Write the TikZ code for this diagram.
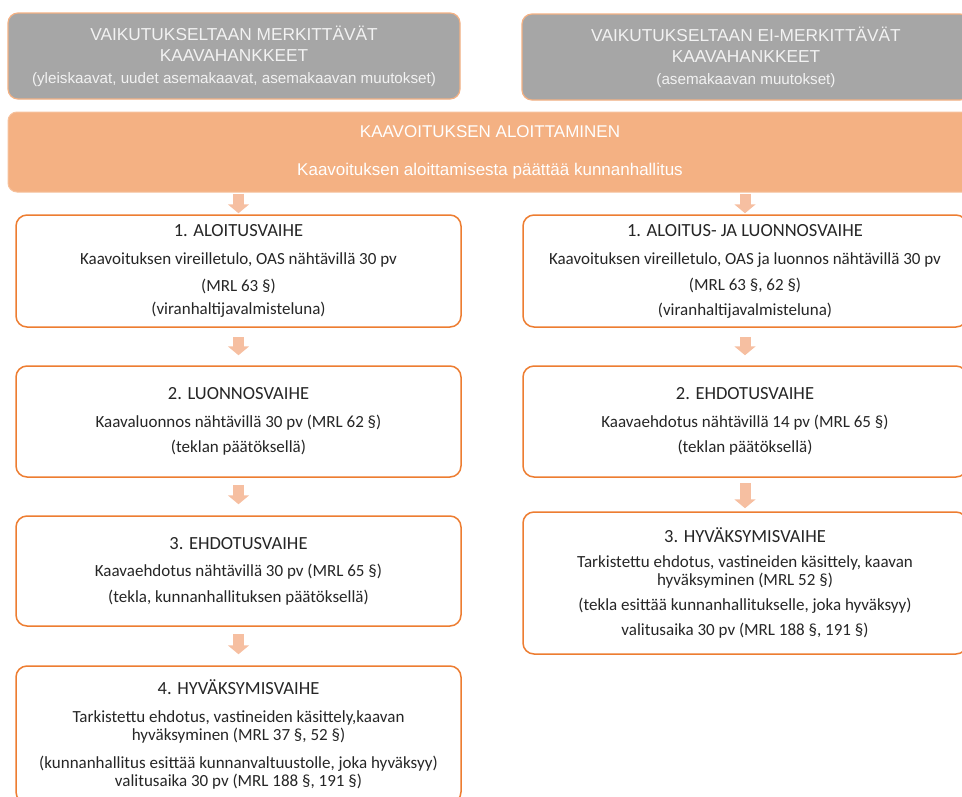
\documentclass[tikz,border=0pt]{standalone}
\usepackage{fontspec}
\setmainfont{Carlito}
\newfontfamily\arialfont{Liberation Sans}
\usetikzlibrary{arrows.meta}

\definecolor{greyfill}{HTML}{A6A6A6}
\definecolor{lightorange}{HTML}{F4B183}
\definecolor{boxorange}{HTML}{ED7D31}
\definecolor{arrowpink}{HTML}{F6BFA1}

\newcommand{\phasetitle}[1]{{\fontsize{18.5}{18}\selectfont #1}}

\begin{document}
\begin{tikzpicture}[
        x=1pt, y=-1pt,
        greybox/.style={rounded corners=10pt, fill=greyfill, draw=lightorange, line width=1.2pt,
            inner sep=0pt, align=center, text=white!95!black,
            font=\arialfont\fontsize{17.3}{21.5}\selectfont},
        banner/.style={rounded corners=9pt, fill=lightorange, draw=lightorange!80!white, line width=1pt,
            inner sep=0pt, align=center, text=white,
            font=\arialfont\fontsize{17}{24}\selectfont},
        phase/.style={rounded corners=11pt, fill=white, draw=boxorange, line width=1.5pt,
            inner sep=0pt, align=center, text=black!85,
            font=\fontsize{17}{18}\selectfont},
        flow/.style={draw=arrowpink, line width=11pt, -{Triangle[width=21pt,length=9pt]}}
    ]

    \useasboundingbox (0,0) rectangle (962,796);

    % Plan types
    \node[greybox, minimum width=452pt, minimum height=86pt] (major) at (234,56)
        {VAIKUTUKSELTAAN MERKITTÄVÄT\\KAAVAHANKKEET\\
         {\fontsize{15.2}{21.5}\selectfont(yleiskaavat, uudet asemakaavat, asemakaavan muutokset)}};
    \node[greybox, minimum width=448pt, minimum height=86pt] (minor) at (746,57)
        {VAIKUTUKSELTAAN EI-MERKITTÄVÄT\\KAAVAHANKKEET\\
         {\fontsize{15.2}{21.5}\selectfont(asemakaavan muutokset)}};

    % Start of planning
    \node[banner, minimum width=964pt, minimum height=80pt] (start) at (490,152)
        {KAAVOITUKSEN ALOITTAMINEN\\[14pt]Kaavoituksen aloittamisesta päättää kunnanhallitus};

    % Left column
    \node[phase, minimum width=445pt, minimum height=112pt] (L1) at (238.5,271)
        {\phasetitle{1. ALOITUSVAIHE}\\[10pt]Kaavoituksen vireilletulo, OAS nähtävillä 30 pv\\[9pt](MRL 63 §)\\[5pt](viranhaltijavalmisteluna)};
    \node[phase, minimum width=445pt, minimum height=111pt] (L2) at (238.5,421.5)
        {\phasetitle{2. LUONNOSVAIHE}\\[10pt]Kaavaluonnos nähtävillä 30 pv (MRL 62 §)\\[7pt](teklan päätöksellä)};
    \node[phase, minimum width=445pt, minimum height=110pt] (L3) at (238.5,571)
        {\phasetitle{3. EHDOTUSVAIHE}\\[9pt]Kaavaehdotus nähtävillä 30 pv (MRL 65 §)\\[8pt](tekla, kunnanhallituksen päätöksellä)};
    \node[phase, minimum width=445pt, minimum height=137pt] (L4) at (238.5,734.5)
        {\phasetitle{4. HYVÄKSYMISVAIHE}\\[10pt]Tarkistettu ehdotus, vastineiden käsittely,kaavan\\hyväksyminen (MRL 37 §, 52 §)\\[10pt](kunnanhallitus esittää kunnanvaltuustolle, joka hyväksyy)\\valitusaika 30 pv (MRL 188 §, 191 §)};

    % Right column
    \node[phase, minimum width=444pt, minimum height=112pt] (R1) at (745,271)
        {\phasetitle{1. ALOITUS- JA LUONNOSVAIHE}\\[10pt]Kaavoituksen vireilletulo, OAS ja luonnos nähtävillä 30 pv\\[8pt](MRL 63 §, 62 §)\\[7pt](viranhaltijavalmisteluna)};
    \node[phase, minimum width=444pt, minimum height=111pt] (R2) at (745,421.5)
        {\phasetitle{2. EHDOTUSVAIHE}\\[10pt]Kaavaehdotus nähtävillä 14 pv (MRL 65 §)\\[7pt](teklan päätöksellä)};
    \node[phase, minimum width=444pt, minimum height=142pt] (R3) at (745,583)
        {\phasetitle{3. HYVÄKSYMISVAIHE}\\[7pt]Tarkistettu ehdotus, vastineiden käsittely, kaavan\\hyväksyminen (MRL 52 §)\\[7pt](tekla esittää kunnanhallitukselle, joka hyväksyy)\\[7pt]valitusaika 30 pv (MRL 188 §, 191 §)};

    % Arrows
    \draw[flow, shorten <=1pt, shorten >=1pt] (L1 |- start.south) -- (L1);
    \draw[flow, shorten <=1pt, shorten >=1pt] (R1 |- start.south) -- (R1);
    \draw[flow, shorten <=9pt, shorten >=10pt] (L1) -- (L2);
    \draw[flow, shorten <=7pt, shorten >=11pt] (L2) -- (L3);
    \draw[flow, shorten <=7pt, shorten >=11pt] (L3) -- (L4);
    \draw[flow, shorten <=9pt, shorten >=10pt] (R1) -- (R2);
    \draw[flow, shorten <=5pt, shorten >=3pt] (R2) -- (R3);

\end{tikzpicture}
\end{document}
